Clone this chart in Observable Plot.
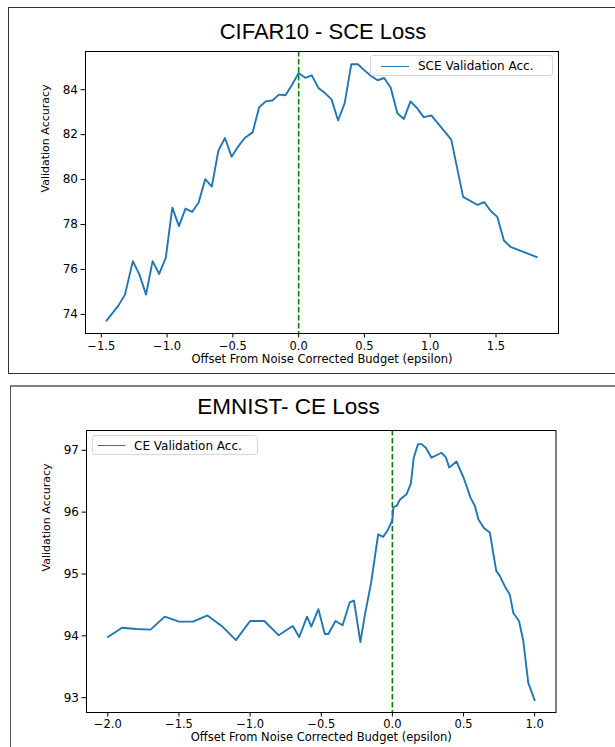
<!DOCTYPE html>
<html>
<head>
<meta charset="utf-8">
<script src="https://cdn.jsdelivr.net/npm/d3@7"></script>
<script src="https://cdn.jsdelivr.net/npm/@observablehq/plot@0.6"></script>
<style>
  body { margin: 0; background: white; }
  #wrap { position: relative; width: 615px; height: 747px; overflow: hidden; background: white; }
  .box { position: absolute; box-sizing: border-box; }
  .title { position: absolute; font-family: "Liberation Sans", Arial, sans-serif; line-height: 1; color: #000; white-space: nowrap; transform: translateX(-50%); }
  .plot { position: absolute; left: 0; }
  .legend { position: absolute; box-sizing: border-box; border: 1px solid #d6d6d6; border-radius: 3px; background: rgba(255,255,255,0.8); font-family: "DejaVu Sans", sans-serif; font-size: 12px; color: #000; }
  .legend .swatch { position: absolute; height: 0; border-top: 1.8px solid #1f77b4; }
  .legend .lab { position: absolute; white-space: nowrap; line-height: 1; }
</style>
</head>
<body>
<div id="wrap">
  <div class="box" style="left:7.5px; top:6.5px; width:640px; height:367px; border:1.5px solid #333;"></div>
  <div class="box" style="left:10px; top:385px; width:640px; height:400px; border:1.5px solid #555; border-top:2px solid #808080;"></div>
  <div id="p1" class="plot" style="top:0;"></div>
  <div id="p2" class="plot" style="top:386px;"></div>
  <div id="t1" class="title" style="left:323px; top:21px; font-size:22px;"></div>
  <div id="t2" class="title" style="left:288.5px; top:396px; font-size:22.5px;"></div>
  <div id="l1" class="legend" style="left:370px; top:55px; width:183px; height:21px;">
    <div class="swatch" style="left:10px; width:28px; top:9.5px;"></div>
    <div class="lab" style="left:47px; top:4px;"></div>
  </div>
  <div id="l2" class="legend" style="left:92px; top:435px; width:166px; height:20px;">
    <div class="swatch" style="left:5px; width:27px; top:9px;"></div>
    <div class="lab" style="left:41px; top:3.5px;"></div>
  </div>
</div>
<script>
// ---------- data ----------
const titles = ["CIFAR10 - SCE Loss", "EMNIST- CE Loss"];
const seriesNames = ["SCE Validation Acc.", "CE Validation Acc."];
const xLabel = "Offset From Noise Corrected Budget (epsilon)";
const yLabel = "Validation Accuracy";

const cifarX = [-1.46, -1.37, -1.32, -1.26, -1.21, -1.16, -1.11, -1.06, -1.01,
  -0.96, -0.91, -0.86, -0.81, -0.76, -0.71, -0.66, -0.61, -0.56, -0.51,
  -0.46, -0.41, -0.35, -0.30, -0.25, -0.20, -0.15, -0.10, -0.05, 0.00,
  0.05, 0.10, 0.15, 0.20, 0.25, 0.30, 0.35, 0.40, 0.45, 0.50, 0.55, 0.60, 0.65, 0.70, 0.75, 0.80, 0.85, 0.90, 0.95,
  1.01, 1.16, 1.25, 1.36, 1.41, 1.46, 1.51, 1.56, 1.61, 1.81];
const cifarY = [73.72, 74.39, 74.88, 76.37, 75.77, 74.88, 76.37, 75.80, 76.52,
  78.75, 77.93, 78.71, 78.56, 78.98, 80.02, 79.69, 81.29, 81.85, 81.02,
  81.47, 81.85, 82.10, 83.22, 83.48, 83.52, 83.78, 83.75, 84.22, 84.74,
  84.53, 84.64, 84.08, 83.85, 83.57, 82.63, 83.40, 85.13, 85.13, 84.86, 84.61, 84.42, 84.52, 84.09, 82.95, 82.70, 83.48, 83.18, 82.78,
  82.85, 81.78, 79.23, 78.87, 79.00, 78.60, 78.34, 77.29, 77.01, 76.55];
const cifarXTicks = [-1.5, -1.0, -0.5, 0.0, 0.5, 1.0, 1.5];
const cifarYTicks = [74, 76, 78, 80, 82, 84];

const emnistX = [-2.0, -1.9, -1.8, -1.7, -1.6, -1.5, -1.4, -1.3, -1.2, -1.1, -1.0, -0.9, -0.8, -0.7,
  -0.655, -0.60, -0.57, -0.52, -0.475, -0.45, -0.40, -0.35, -0.30, -0.27, -0.225,
  -0.19, -0.15, -0.10, -0.065, -0.035, 0.0,
  0.007, 0.03, 0.055, 0.10, 0.13, 0.15, 0.18, 0.205, 0.235, 0.275,
  0.31, 0.345, 0.375, 0.40, 0.45, 0.50, 0.55, 0.58, 0.605, 0.645,
  0.685, 0.73, 0.755, 0.795, 0.825, 0.85, 0.89, 0.92, 0.955, 1.0];
const emnistY = [93.98, 94.13, 94.11, 94.10, 94.31, 94.23, 94.23, 94.33, 94.16, 93.93, 94.24, 94.24, 94.01, 94.16,
  93.98, 94.31, 94.15, 94.43, 94.03, 94.03, 94.24, 94.17, 94.54, 94.57, 93.90,
  94.38, 94.85, 95.64, 95.60, 95.70, 95.87,
  96.08, 96.10, 96.21, 96.29, 96.46, 96.88, 97.10, 97.10, 97.04, 96.88,
  96.92, 96.96, 96.89, 96.72, 96.82, 96.56, 96.23, 96.10, 95.88, 95.74,
  95.67, 95.05, 94.97, 94.78, 94.67, 94.37, 94.24, 93.92, 93.24, 92.96];
const emnistXTicks = [-2.0, -1.5, -1.0, -0.5, 0.0, 0.5, 1.0];
const emnistYTicks = [93, 94, 95, 96, 97];

// ---------- drawing ----------
const lineColor = "#1f77b4";
function panel({xs, ys, xDomain, yDomain, xTicks, yTicks, height, margins, pad, labelDy}) {
  const data = xs.map((x, i) => ({x, y: ys[i]}));
  return Plot.plot({
    width: 615,
    height,
    marginLeft: margins[0], marginRight: margins[1], marginTop: margins[2], marginBottom: margins[3],
    style: {fontFamily: "DejaVu Sans, sans-serif", fontSize: "12px", color: "#000", background: "transparent", overflow: "visible"},
    x: {domain: xDomain},
    y: {domain: yDomain},
    marks: [
      Plot.ruleX([0], {stroke: "#008000", strokeWidth: 1.6, strokeDasharray: "5.5,2.5"}),
      Plot.line(data, {x: "x", y: "y", stroke: lineColor, strokeWidth: 1.9}),
      Plot.frame({stroke: "#000", strokeWidth: 1}),
      Plot.axisX({ticks: xTicks, tickFormat: d3.format(".1f"), tickSize: 4.5, tickPadding: pad, fontSize: 11.5, label: null, stroke: "#000"}),
      Plot.axisY({ticks: yTicks, tickFormat: d3.format("d"), tickSize: 4.5, tickPadding: 3, fontSize: 12, label: null, stroke: "#000"}),
      Plot.text([xLabel], {frameAnchor: "bottom", dy: labelDy, fontSize: 11.5, fill: "#000"}),
      Plot.text([yLabel], {frameAnchor: "left", dx: -40, rotate: -90, fontSize: 11, fill: "#000"})
    ]
  });
}

document.getElementById("p1").appendChild(panel({
  xs: cifarX, ys: cifarY, xDomain: [-1.62, 1.975], yDomain: [73.15, 85.7],
  xTicks: cifarXTicks, yTicks: cifarYTicks, height: 372, margins: [85, 57, 51, 39], pad: 3.5, labelDy: 29
}));
document.getElementById("p2").appendChild(panel({
  xs: emnistX, ys: emnistY, xDomain: [-2.15, 1.15], yDomain: [92.76, 97.32],
  xTicks: emnistXTicks, yTicks: emnistYTicks, height: 361, margins: [86, 59.5, 44, 35], pad: 2.5, labelDy: 28
}));

document.getElementById("t1").textContent = titles[0];
document.getElementById("t2").textContent = titles[1];
document.querySelector("#l1 .lab").textContent = seriesNames[0];
document.querySelector("#l2 .lab").textContent = seriesNames[1];
</script>
</body>
</html>
